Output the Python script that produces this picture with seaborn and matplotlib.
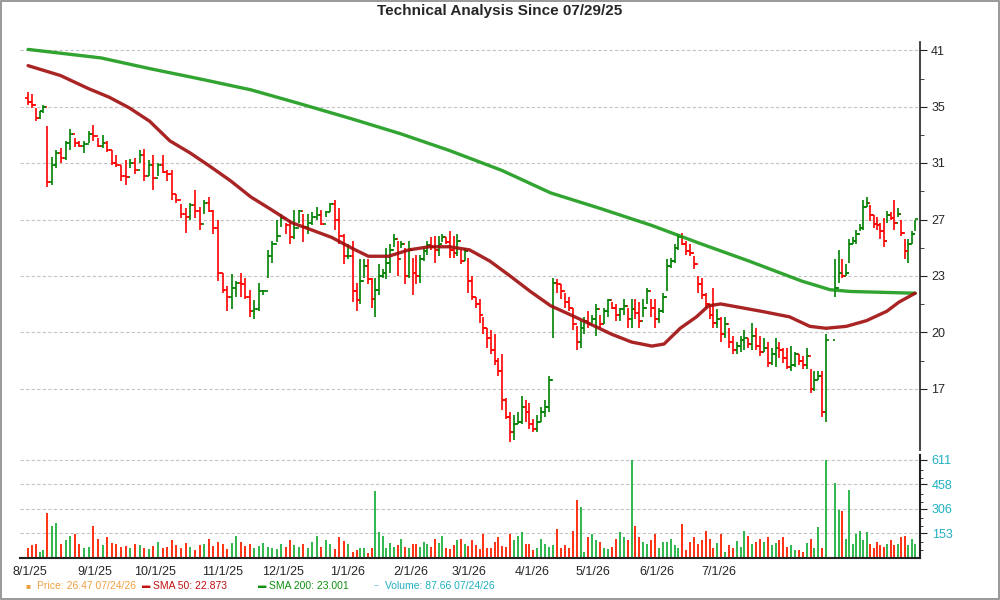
import numpy as np
import pandas as pd
import matplotlib
matplotlib.use("Agg")
import matplotlib.pyplot as plt
import seaborn as sns

sns.set_style("white")
plt.rcParams['font.family'] = ['Liberation Sans', 'DejaVu Sans']

# ---------------- data ----------------
high = [36.8,36.6,35.3,35.0,35.6,33.7,31.1,31.6,31.8,32.4,33.4,32.6,32.4,32.4,33.2,33.8,32.6,32.9,32.4,31.6,
        31.2,30.4,30.8,30.9,31.0,31.6,31.7,30.8,31.2,30.6,31.2,30.0,30.0,28.2,27.5,27.2,27.6,28.5,27.3,27.8,
        28.0,27.1,26.4,23.0,22.2,22.9,22.5,23.0,22.7,22.0,21.4,22.4,22.0,24.4,25.0,26.4,26.8,26.2,26.4,27.1,
        27.1,26.8,26.8,26.9,27.3,27.1,27.0,27.6,27.8,27.2,25.4,24.8,25.0,22.4,23.8,23.8,23.8,22.7,22.7,23.5,
        23.2,24.5,24.8,25.4,25.0,25.0,24.5,25.0,23.9,24.1,24.1,24.5,25.0,25.2,25.3,25.3,25.4,25.2,25.6,25.3,
        25.4,24.4,24.5,23.9,22.8,21.6,21.5,20.5,19.9,19.8,19.6,18.4,18.6,16.6,16.0,15.9,16.0,16.7,16.5,16.4,
        15.7,15.9,16.2,16.5,17.6,22.7,22.6,22.3,21.8,21.6,21.0,20.0,20.3,20.5,20.8,20.6,21.2,20.6,21.0,21.5,
        21.3,21.2,21.0,21.5,21.0,21.5,21.5,21.3,21.5,22.1,21.5,21.5,21.0,21.8,23.8,23.9,24.8,25.4,25.5,25.0,
        24.8,24.0,22.8,22.7,21.8,21.2,22.1,20.9,20.5,20.5,19.9,19.5,19.2,19.5,19.8,19.4,20.2,19.9,19.5,19.4,
        19.2,18.9,19.4,19.2,18.9,18.9,19.0,18.7,18.6,18.5,18.9,17.9,17.8,17.8,17.8,19.6,23.8,24.4,23.8,23.5,
        25.1,25.2,25.7,26.1,27.8,28.0,27.4,26.7,26.6,26.2,26.5,27.0,26.9,27.8,27.2,26.4,25.1,25.1,25.6,26.4]
low = [35.6,35.3,34.1,34.3,34.8,28.7,28.9,30.2,30.6,30.8,31.6,31.9,31.9,31.4,32.2,32.4,31.9,31.8,31.5,30.4,
       30.3,29.2,28.9,30.2,29.7,30.6,29.2,29.6,28.5,29.6,29.8,29.2,27.8,27.6,26.5,25.5,26.4,26.5,25.7,26.8,
       26.9,25.4,22.5,21.8,20.8,20.9,21.6,21.6,21.5,20.5,20.4,20.8,21.7,22.7,23.6,24.9,25.9,25.4,24.8,25.1,
       26.2,24.9,25.4,26.0,26.4,26.0,26.6,26.9,25.7,24.8,23.5,23.8,21.3,20.8,21.2,22.7,22.3,21.0,20.5,21.7,
       22.7,22.6,23.0,24.6,22.8,24.5,22.3,22.7,21.7,22.3,22.4,23.7,24.1,24.4,23.6,24.0,24.9,24.8,23.9,23.9,
       24.0,23.5,23.7,21.8,21.4,21.0,20.2,19.6,18.9,18.6,18.1,17.6,16.1,15.7,14.8,14.9,15.5,15.5,15.6,15.3,
       15.2,15.2,15.6,15.8,16.0,19.4,21.8,21.5,21.0,20.8,19.8,18.8,18.9,19.6,19.9,20.2,19.5,19.9,20.1,20.5,
       20.9,20.3,20.3,20.6,19.9,19.9,20.4,19.9,20.5,21.2,20.5,19.9,20.2,20.7,21.9,23.3,23.6,24.4,24.7,24.1,
       24.0,23.2,21.8,21.5,21.0,20.4,19.9,19.9,19.2,19.4,18.9,18.6,18.6,18.7,18.8,18.9,18.8,18.8,18.5,18.7,
       18.0,18.1,18.0,18.4,18.2,17.9,17.8,18.0,18.1,17.9,17.9,16.8,16.9,17.4,15.8,15.6,21.6,22.4,22.7,22.8,
       23.6,24.8,24.8,25.6,25.7,27.3,26.3,25.8,25.7,25.1,24.6,26.2,26.4,25.7,26.6,25.3,23.8,23.6,24.8,25.6]
close = [35.8,35.6,34.4,35.0,35.4,29.1,30.4,31.4,31.0,32.2,33.0,32.2,32.0,32.1,33.0,32.8,32.0,32.2,31.6,30.6,
         30.4,29.6,29.5,30.6,30.0,31.2,29.6,30.4,29.4,30.4,29.9,29.7,28.2,27.8,26.8,26.6,27.4,27.0,26.1,27.6,
         27.0,25.8,23.0,22.0,21.6,22.1,22.4,22.3,21.6,20.8,20.9,21.9,21.9,24.0,24.8,25.3,26.5,26.0,25.2,25.8,
         27.0,25.9,26.2,26.6,26.7,26.1,26.9,27.5,26.4,25.3,24.0,24.0,21.9,21.4,22.5,23.4,22.6,21.5,22.0,22.8,
         23.0,23.6,24.4,25.1,23.8,24.8,22.8,24.4,23.0,22.8,23.8,24.3,24.7,24.6,24.4,24.8,25.2,24.9,24.4,24.2,
         25.0,23.7,24.3,22.5,21.6,21.2,20.6,19.9,19.4,18.8,18.3,17.8,16.5,15.8,15.2,15.5,15.6,16.2,16.0,15.5,
         15.3,15.6,16.0,16.2,17.4,22.4,22.3,21.9,21.3,21.0,20.1,19.2,19.9,20.3,20.1,20.4,20.9,20.1,20.8,21.4,
         21.0,20.6,20.9,21.1,20.4,20.9,20.7,20.3,21.0,21.9,21.0,20.4,20.8,21.6,23.4,23.7,24.5,25.2,24.8,24.3,
         24.2,23.5,22.3,21.7,21.2,20.6,20.2,20.4,19.6,20.1,19.2,18.8,19.0,19.3,19.4,19.1,19.5,19.0,18.7,18.9,
         18.2,18.6,18.9,18.8,18.4,18.0,18.1,18.6,18.3,18.1,18.5,17.0,17.4,17.6,16.0,19.3,22.1,23.0,22.8,23.0,
         24.8,25.0,25.4,25.8,27.3,27.6,26.7,26.1,26.0,25.6,25.0,26.7,26.5,26.2,26.8,25.5,24.3,24.8,25.4,26.47]
volume = [60,80,85,40,50,280,200,215,90,110,140,150,90,60,70,200,120,80,130,95,
          85,70,75,60,90,80,65,55,75,100,60,70,110,80,60,95,70,50,80,90,
          120,75,100,85,55,95,140,100,75,85,65,75,95,70,60,55,85,70,110,80,
          70,85,60,100,140,70,110,85,55,130,105,90,40,50,60,60,30,60,420,160,
          140,60,95,70,80,120,70,60,90,85,70,100,85,70,120,95,135,60,55,80,
          110,120,90,75,110,80,55,150,60,60,100,130,75,70,150,110,140,160,85,90,
          50,60,120,90,70,80,180,60,80,60,170,360,320,40,130,150,110,100,60,55,
          70,120,160,130,115,610,200,130,100,85,110,150,60,100,100,120,80,60,210,50,
          100,130,90,110,170,120,60,95,150,40,80,60,105,70,170,140,90,100,120,100,
          130,80,95,110,130,70,80,50,50,40,95,120,60,195,60,610,470,300,290,120,
          425,90,150,170,110,160,90,60,100,80,70,90,110,80,90,130,140,80,120,88]

# time axis: anchor bars and their day positions (in trading-day units)
anchor_bar = [0, 5, 42, 72, 112, 125, 154, 195, 196, 219]
anchor_day = [0.0, 4.7, 46.9, 80.2, 117.0, 129.6, 157.7, 197.0, 199.3, 219.0]

sma50_idx = [0,8,15,20,25,30,35,40,45,50,55,60,65,70,75,80,84,89,94,99,104,109,114,119,124,129,134,139,
             144,149,154,157,161,165,168,171,176,181,188,193,197,202,207,212,215,219]
sma50_val = [39.4,38.4,37.1,36.3,35.3,34.1,32.4,31.4,30.3,29.2,28.0,27.1,26.2,25.7,25.2,24.5,24.0,24.0,24.4,
             24.6,24.6,24.4,23.7,22.8,21.9,21.1,20.6,20.1,19.6,19.2,19.0,19.1,19.9,20.5,21.1,21.2,21.0,20.8,
             20.5,20.0,19.9,20.0,20.3,20.8,21.3,21.8]
sma200_idx = [0,18,30,42,55,67,80,92,104,117,129,141,154,166,178,191,198,203,219]
sma200_val = [41.1,40.2,39.1,38.1,37.0,35.7,34.3,33.0,31.6,30.0,28.3,27.2,26.0,24.8,23.7,22.5,22.0,21.9,21.8]

month_labels = ["8/1/25","9/1/25","10/1/25","11/1/25","12/1/25","1/1/26","2/1/26",
                "3/1/26","4/1/26","5/1/26","6/1/26","7/1/26"]
month_pos = [0.5,16.5,31.4,47.9,63.0,78.8,94.6,108.9,124.4,139.5,155.3,170.6]
price_ticks = [41.0,35.4,30.6,26.4,22.8,19.7,17.0]
price_tick_labels = ["41","35","31","27","23","20","17"]
vol_ticks = [153,306,458,611]

# ---------------- figure ----------------
GREEN, RED = "#008000", "#ff0000"
fig = plt.figure(figsize=(10, 6), dpi=100)
fig.patch.set_facecolor("white")
axp = fig.add_axes([0.02, 0.25, 0.90, 0.68])
axv = fig.add_axes([0.02, 0.07, 0.90, 0.172], sharex=axp)

n = len(close)
x = np.interp(np.arange(n), anchor_bar, anchor_day)
c = np.array(close); h = np.array(high); l = np.array(low)
o = np.concatenate([[c[0] + 0.4], c[:-1]])
up = c >= o
cols = np.where(up, GREEN, RED)

axp.set_yscale("log")
axp.vlines(x, l, h, colors=cols, lw=1.2)
axp.hlines(o, x - 0.7, x, colors=cols, lw=1.2)
axp.hlines(c, x, x + 0.7, colors=cols, lw=1.2)

sdf50 = pd.DataFrame({"i": sma50_idx, "v": sma50_val})
sdf200 = pd.DataFrame({"i": sma200_idx, "v": sma200_val})
sns.lineplot(data=sdf200, x="i", y="v", ax=axp, color="#1a9a1a", lw=2.4, alpha=0.9)
sns.lineplot(data=sdf50, x="i", y="v", ax=axp, color="#a00c0c", lw=2.4, alpha=0.9)

axp.set_ylim(14.5, 41.9)
axp.set_xlim(-2.0, 220.2)
axp.yaxis.tick_right()
axp.set_yticks(price_ticks)
axp.set_yticklabels(price_tick_labels, fontsize=9)
mids = [np.sqrt(a * b) for a, b in zip(price_ticks[:-1], price_ticks[1:])]
axp.set_yticks(mids, minor=True)
axp.yaxis.set_minor_formatter(matplotlib.ticker.NullFormatter())
axp.tick_params(axis="y", which="major", length=5, color="#222", pad=3)
axp.tick_params(axis="y", which="minor", length=3, color="#222")
axp.grid(axis="y", which="major", ls=(0, (3, 2)), color="#c4c4c4", lw=0.8)
axp.set_xlabel(""); axp.set_ylabel("")
axp.tick_params(axis="x", bottom=False, labelbottom=False)
for s in ["left", "top", "bottom"]:
    axp.spines[s].set_visible(False)
axp.spines["right"].set_color("#222"); axp.spines["right"].set_lw(1.2)

vcols = np.where(up, "#20b040", "#ff2000")
axv.vlines(x, 0, volume, colors=vcols, lw=1.3)
axv.set_ylim(0, 643)
axv.yaxis.tick_right()
axv.set_yticks(vol_ticks)
axv.set_yticklabels([str(v) for v in vol_ticks], fontsize=9, color="#20b0c0")
axv.set_yticks([50, 100, 200, 250, 350, 400, 500, 550], minor=True)
axv.tick_params(axis="y", which="major", length=5, color="#222")
axv.tick_params(axis="y", which="minor", length=2, color="#222")
axv.grid(axis="y", which="major", ls=(0, (3, 2)), color="#c4c4c4", lw=0.8)
axv.set_xticks(month_pos)
axv.set_xticklabels(month_labels, fontsize=9)
axv.tick_params(axis="x", length=4, color="#222", pad=2)
for s in ["left", "top"]:
    axv.spines[s].set_visible(False)
for s in ["right", "bottom"]:
    axv.spines[s].set_color("#222"); axv.spines[s].set_lw(1.5)

fig.text(0.5, 0.982, "Technical Analysis Since 07/29/25", ha="center", va="center",
         fontsize=11, fontweight="bold")

leg = [("■", "Price: 26.47 07/24/26", "#f0a040", 0.026),
       ("▬", "SMA 50: 22.873", "#c01010", 0.142),
       ("▬", "SMA 200: 23.001", "#109010", 0.258),
       ("–", "Volume: 87.66 07/24/26", "#20b0c0", 0.374)]
for sym, txt, col, xx in leg:
    fig.text(xx, 0.023, sym, color=col, fontsize=6, va="center")
    fig.text(xx + 0.011, 0.023, txt, color=col, fontsize=7.5, va="center")

border = plt.Rectangle((0.001, 0.001), 0.998, 0.998, transform=fig.transFigure,
                       fill=False, ec="#888888", lw=1.2)
fig.patches.append(border)
fig.savefig("out.png", dpi=100)
